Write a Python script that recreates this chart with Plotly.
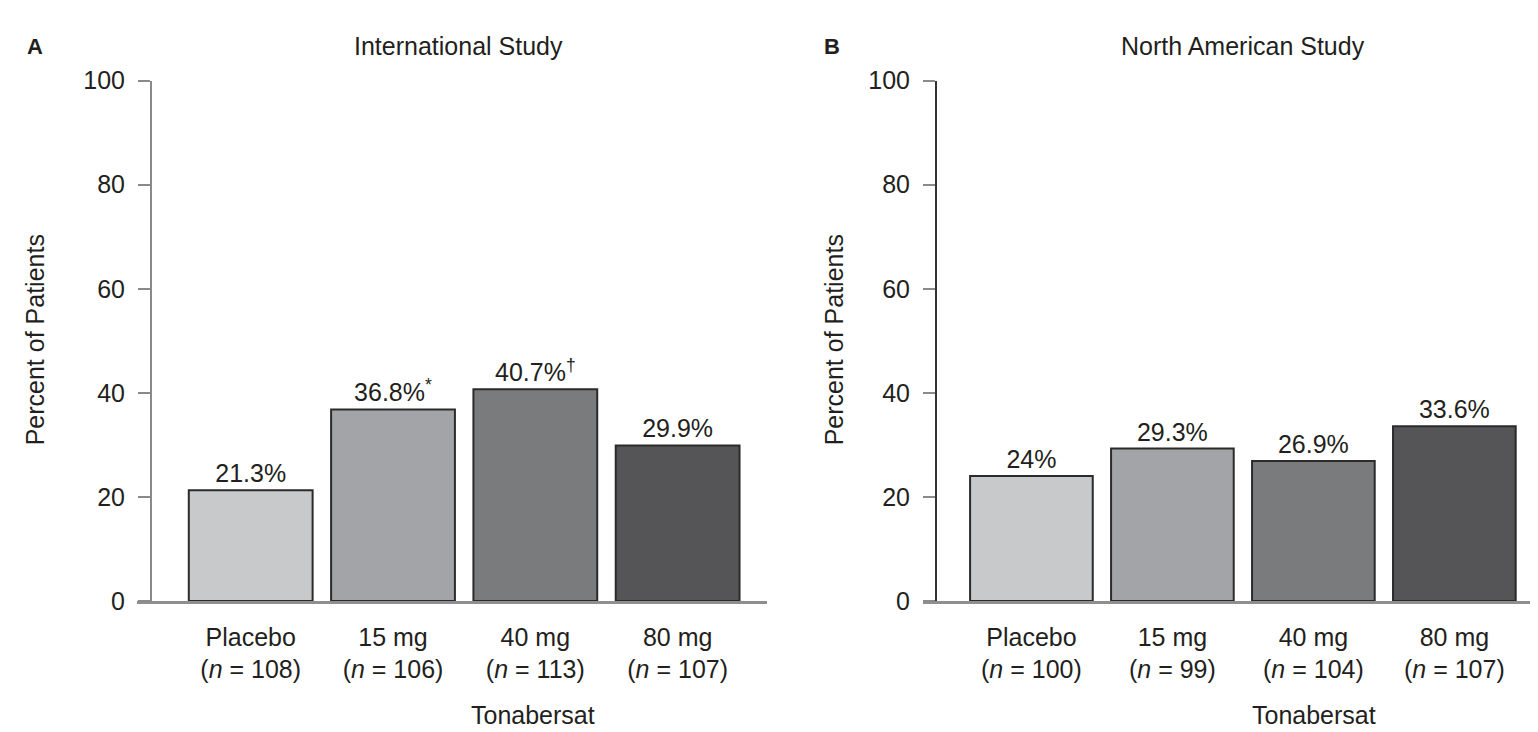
import plotly.graph_objects as go

# ---- data ----
doses = ["Placebo", "15 mg", "40 mg", "80 mg"]
n_intl = [108, 106, 113, 107]
n_na = [100, 99, 104, 107]
pct_intl = [21.3, 36.8, 40.7, 29.9]
pct_na = [24.0, 29.3, 26.9, 33.6]
marks_intl = ["", "*", "\u2020", ""]
marks_na = ["", "", "", ""]
labels_na = ["24%", "29.3%", "26.9%", "33.6%"]
bar_colors = ["#c8c9cb", "#a3a4a7", "#7a7b7d", "#555557"]
y_ticks = [0, 20, 40, 60, 80, 100]

FONT = "Liberation Sans, Arial, Helvetica, sans-serif"
TXT = "#231f20"
FS = 25
W, H = 1538, 732


def px(x):
    return x / W


def py(y):
    return (H - y) / H


def tick_text(ns):
    return [f"{d}<br>(<i>n</i> = {n})" for d, n in zip(doses, ns)]


intl_text = [f"{v:.1f}%" + (f"<sup>{m}</sup>" if m else "") for v, m in zip(pct_intl, marks_intl)]
na_text = [t + (f"<sup>{m}</sup>" if m else "") for t, m in zip(labels_na, marks_na)]

fig = go.Figure()
fig.add_trace(go.Bar(
    x=doses, y=pct_intl, xaxis="x", yaxis="y",
    marker=dict(color=bar_colors, line=dict(color="#2b2b2b", width=2)),
    text=intl_text, textposition="outside", cliponaxis=False,
    textfont=dict(family=FONT, size=FS, color=TXT), showlegend=False, hoverinfo="skip",
))
fig.add_trace(go.Bar(
    x=doses, y=pct_na, xaxis="x2", yaxis="y2",
    marker=dict(color=bar_colors, line=dict(color="#2b2b2b", width=2)),
    text=na_text, textposition="outside", cliponaxis=False,
    textfont=dict(family=FONT, size=FS, color=TXT), showlegend=False, hoverinfo="skip",
))

ydom = [py(602), py(61)]
xcommon = dict(
    type="category", showline=True, linecolor="#8f8f8f", linewidth=3, ticks="",
    showgrid=False, zeroline=False, tickfont=dict(family=FONT, size=FS, color=TXT),
    ticklabelstandoff=12, fixedrange=True,
)
ycommon = dict(
    range=[0, 100], tickvals=y_ticks, showgrid=False, zeroline=False, showline=True,
    linewidth=2, ticks="outside", ticklen=12, tickwidth=2, tickcolor="#8a8a8a",
    ticklabelstandoff=8, tickfont=dict(family=FONT, size=FS, color=TXT), domain=ydom,
    anchor="free", fixedrange=True,
)

fig.update_layout(
    width=W, height=H, margin=dict(l=0, r=0, t=0, b=0),
    paper_bgcolor="white", plot_bgcolor="white", bargap=0.13,
    xaxis=dict(**xcommon, domain=[px(129), px(759)], range=[-0.799, 3.628],
               anchor="y", tickvals=doses, ticktext=tick_text(n_intl)),
    yaxis=dict(**ycommon, position=px(143), linecolor="#8a8a8a"),
    xaxis2=dict(**xcommon, domain=[px(915), 1.0], range=[-0.769, 3.650],
                anchor="y2", tickvals=doses, ticktext=tick_text(n_na)),
    yaxis2=dict(**ycommon, position=px(928), linecolor="#333333"),
)

ann = []
for letter, lx, title, tx, yt_x, tb_x in [
    ("A", 27, "International Study", 450, 27, 525),
    ("B", 824, "North American Study", 1235, 826, 1306),
]:
    ann.append(dict(text=f"<b>{letter}</b>", x=px(lx), y=py(25), xref="paper", yref="paper",
                    xanchor="center", yanchor="middle", showarrow=False,
                    font=dict(family=FONT, size=22, color=TXT)))
    ann.append(dict(text=title, x=px(tx), y=py(25), xref="paper", yref="paper",
                    xanchor="center", yanchor="middle", showarrow=False,
                    font=dict(family=FONT, size=FS, color=TXT)))
    ann.append(dict(text="Percent of Patients", x=px(yt_x), y=py(331), xref="paper", yref="paper",
                    xanchor="center", yanchor="middle", textangle=-90, showarrow=False,
                    font=dict(family=FONT, size=FS, color=TXT)))
    ann.append(dict(text="Tonabersat", x=px(tb_x), y=py(721), xref="paper", yref="paper",
                    xanchor="center", yanchor="middle", showarrow=False,
                    font=dict(family=FONT, size=FS, color=TXT)))
fig.update_layout(annotations=ann)

fig.write_html("out.html", config={"displayModeBar": False})
